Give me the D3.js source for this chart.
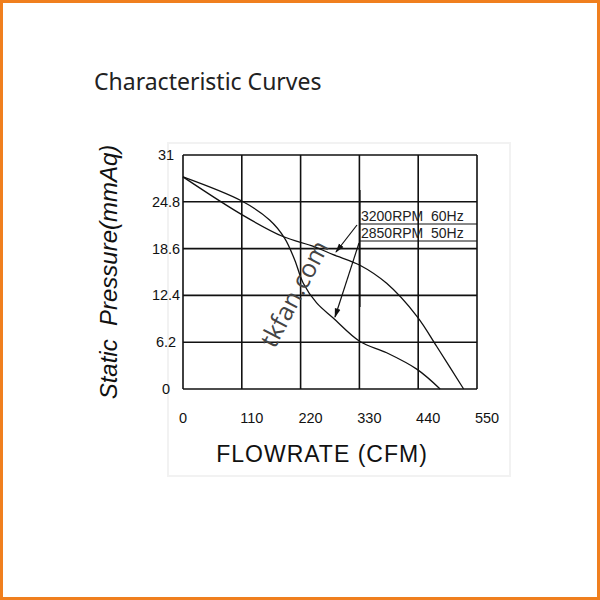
<!DOCTYPE html>
<html><head><meta charset="utf-8">
<script src="https://cdn.jsdelivr.net/npm/d3@7"></script>
<style>body{margin:0;background:#fff}</style>
</head><body><div id="chart"></div>
<script>
// characteristic curves, values
const xTicks = [0, 110, 220, 330, 440, 550];
const yTicks = [0, 6.2, 12.4, 18.6, 24.8, 31];
const flow60 = [0, 110, 187, 244, 281, 331, 381, 438, 475, 525];
const press60 = [28.1, 23.1, 20.2, 18.9, 17.8, 16.4, 14.0, 9.6, 5.6, 0];
const flow50 = [0, 110, 162, 190, 209, 225, 250, 281, 331, 381, 438, 481];
const press50 = [28.1, 24.9, 22.4, 20.0, 17.1, 14.0, 11.4, 9.4, 6.3, 4.8, 2.6, 0];
const legend = ["3200RPM  60Hz", "2850RPM  50Hz"];

const svg = d3.select("#chart").append("svg").attr("width", 600).attr("height", 600);
svg.append("rect").attr("x", 1.5).attr("y", 1.5).attr("width", 597).attr("height", 597)
  .attr("fill", "#fff").attr("stroke", "#f07f1e").attr("stroke-width", 3);
svg.append("rect").attr("x", 168).attr("y", 143).attr("width", 342).attr("height", 333)
  .attr("fill", "none").attr("stroke", "#f2f2f2").attr("stroke-width", 2);

svg.append("text").attr("x", 94).attr("y", 90).text("Characteristic Curves")
  .attr("font-family", "Noto Sans").attr("font-size", 23).attr("fill", "#222");

const x = d3.scaleLinear().domain([0, 550]).range([183, 477]);
const y = d3.scaleLinear().domain([0, 31]).range([389, 155]);

const grid = svg.append("g").attr("stroke", "#111").attr("stroke-width", 1.6);
xTicks.forEach(v => grid.append("line").attr("x1", x(v)).attr("x2", x(v)).attr("y1", y(0)).attr("y2", y(31)));
yTicks.forEach(v => grid.append("line").attr("x1", x(0)).attr("x2", x(550)).attr("y1", y(v)).attr("y2", y(v)));

const font = "Liberation Sans, Arial, sans-serif";
xTicks.forEach((v, i) => svg.append("text").attr("x", x(v) + (i ? 10 : 0)).attr("y", 423)
  .attr("text-anchor", "middle").attr("font-family", font).attr("font-size", 14.5).attr("fill", "#111").text(v));
yTicks.forEach(v => svg.append("text").attr("x", 166).attr("y", y(v) + 5)
  .attr("text-anchor", "middle").attr("font-family", font).attr("font-size", 14.5).attr("fill", "#111").text(v));

svg.append("text").attr("x", 322).attr("y", 462).attr("text-anchor", "middle")
  .attr("font-family", font).attr("font-size", 23).attr("letter-spacing", 1).attr("fill", "#111").text("FLOWRATE (CFM)");
svg.append("text").attr("transform", "translate(117,272) rotate(-90)").attr("text-anchor", "middle")
  .attr("font-family", font).attr("font-size", 24).attr("font-style", "italic").attr("fill", "#111")
  .style("white-space", "pre").text("Static  Pressure(mmAq)");

const line = d3.line().x(d => x(d[0])).y(d => y(d[1])).curve(d3.curveCatmullRom);
[[flow60, press60], [flow50, press50]].forEach(([f, p]) =>
  svg.append("path").datum(f.map((v, i) => [v, p[i]])).attr("d", line)
    .attr("fill", "none").attr("stroke", "#111").attr("stroke-width", 1.3));

// watermark
svg.append("text").attr("transform", "translate(302,298) rotate(-62)").attr("text-anchor", "middle")
  .attr("font-family", "Open Sans").attr("font-size", 25).attr("fill", "#444").text("tkfan.com");

// legend with leader lines
const ann = svg.append("g").attr("stroke", "#111").attr("stroke-width", 1.2);
ann.append("line").attr("x1", 360).attr("x2", 360).attr("y1", 190).attr("y2", 307);
legend.forEach((t, i) => {
  svg.append("text").attr("x", 361).attr("y", 221 + i * 17).attr("font-family", font)
    .attr("font-size", 14).attr("fill", "#222").style("white-space", "pre").text(t);
  ann.append("line").attr("x1", 360).attr("x2", 477).attr("y1", 224 + i * 17).attr("y2", 224 + i * 17);
});
svg.append("defs").append("marker").attr("id", "ar").attr("viewBox", "0 0 10 10").attr("refX", 9).attr("refY", 5)
  .attr("markerWidth", 8).attr("markerHeight", 8).attr("orient", "auto")
  .append("path").attr("d", "M0,2L10,5L0,8z").attr("fill", "#111");
ann.append("line").attr("x1", 357).attr("y1", 225).attr("x2", 336).attr("y2", 252).attr("marker-end", "url(#ar)");
ann.append("line").attr("x1", 359).attr("y1", 243).attr("x2", 335).attr("y2", 317).attr("marker-end", "url(#ar)");
</script></body></html>
